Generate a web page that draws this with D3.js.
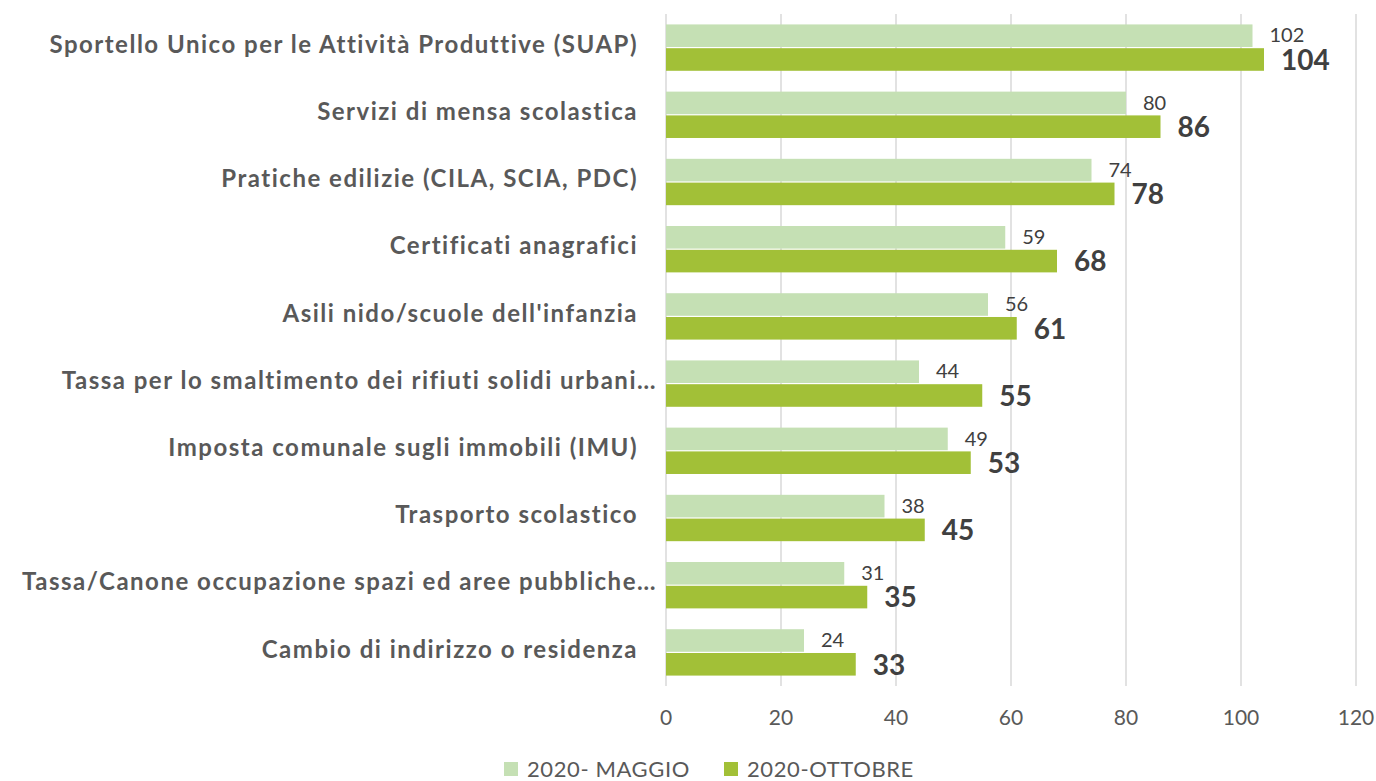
<!DOCTYPE html>
<html><head><meta charset="utf-8">
<script src="https://cdn.jsdelivr.net/npm/d3@7"></script>
<style>body{margin:0;background:#fff}svg{display:block}text{font-family:Lato,"Open Sans",sans-serif}</style>
</head><body><svg id="c" width="1376" height="781"></svg>
<script>
const categories = [
  "Sportello Unico per le Attività Produttive (SUAP)",
  "Servizi di mensa scolastica",
  "Pratiche edilizie (CILA, SCIA, PDC)",
  "Certificati anagrafici",
  "Asili nido/scuole dell'infanzia",
  "Tassa per lo smaltimento dei rifiuti solidi urbani…",
  "Imposta comunale sugli immobili (IMU)",
  "Trasporto scolastico",
  "Tassa/Canone occupazione spazi ed aree pubbliche…",
  "Cambio di indirizzo o residenza"
];
const maggio  = [102, 80, 74, 59, 56, 44, 49, 38, 31, 24];
const ottobre = [104, 86, 78, 68, 61, 55, 53, 45, 35, 33];
const seriesNames = ["2020- MAGGIO", "2020-OTTOBRE"];
const xTicks = [0, 20, 40, 60, 80, 100, 120];

const colors = ["#C5E0B4", "#A2C037"];
const svg = d3.select("#c");
const m = {left: 666, right: 1356, top: 14, bottom: 686};

const x = d3.scaleLinear().domain([0, 120]).range([m.left, m.right]);
const y = d3.scaleBand().domain(categories).range([m.top, m.bottom]).paddingInner(0.31).paddingOuter(0.155);
const sub = d3.scaleBand().domain([0, 1]).range([0, y.bandwidth()]).paddingInner(0.05);

// grid
svg.append("g").selectAll("line").data(xTicks).join("line")
  .attr("x1", d => x(d)).attr("x2", d => x(d))
  .attr("y1", m.top).attr("y2", m.bottom)
  .attr("stroke", "#D9D9D9").attr("stroke-width", 1.5);

// x tick labels
svg.append("g").selectAll("text").data(xTicks).join("text")
  .attr("x", d => x(d)).attr("y", 725)
  .attr("text-anchor", "middle").attr("font-size", 21).attr("fill", "#595959")
  .text(d => d);

const rows = categories.map((c, i) => ({c, v: [maggio[i], ottobre[i]]}));

const g = svg.append("g").selectAll("g").data(rows).join("g")
  .attr("transform", d => `translate(0,${y(d.c)})`);

g.selectAll("rect").data(d => d.v.map((v, k) => ({v, k}))).join("rect")
  .attr("x", x(0)).attr("y", d => sub(d.k))
  .attr("width", d => x(d.v) - x(0)).attr("height", sub.bandwidth())
  .attr("fill", d => colors[d.k]);

// value labels
g.selectAll("text.v").data(d => d.v.map((v, k) => ({v, k}))).join("text")
  .attr("class", "v")
  .attr("x", d => x(d.v) + 17)
  .attr("y", d => d.k === 0 ? sub(0) + 18 : sub(1) + sub.bandwidth() - 1)
  .attr("font-size", d => d.k === 0 ? 20 : 28)
  .attr("font-weight", d => d.k === 0 ? 400 : 700)
  .attr("fill", "#404040")
  .text(d => d.v);

// category labels
svg.append("g").selectAll("text").data(categories).join("text")
  .attr("x", d => d.endsWith("…") ? 657 : 638)
  .attr("y", d => y(d) + y.bandwidth() / 2 - 1)
  .attr("text-anchor", "end").attr("dominant-baseline", "middle")
  .attr("font-size", 24).attr("font-weight", 700).attr("fill", "#595959")
  .attr("letter-spacing", 1.5)
  .text(d => d);

// legend
const leg = svg.append("g");
const lx = [504, 724];
seriesNames.forEach((s, i) => {
  leg.append("rect").attr("x", lx[i]).attr("y", 762).attr("width", 14).attr("height", 14).attr("fill", colors[i]);
  leg.append("text").attr("x", lx[i] + 23).attr("y", 777).attr("font-size", 22).attr("letter-spacing", 0.6).attr("fill", "#595959").text(s);
});
</script></body></html>
